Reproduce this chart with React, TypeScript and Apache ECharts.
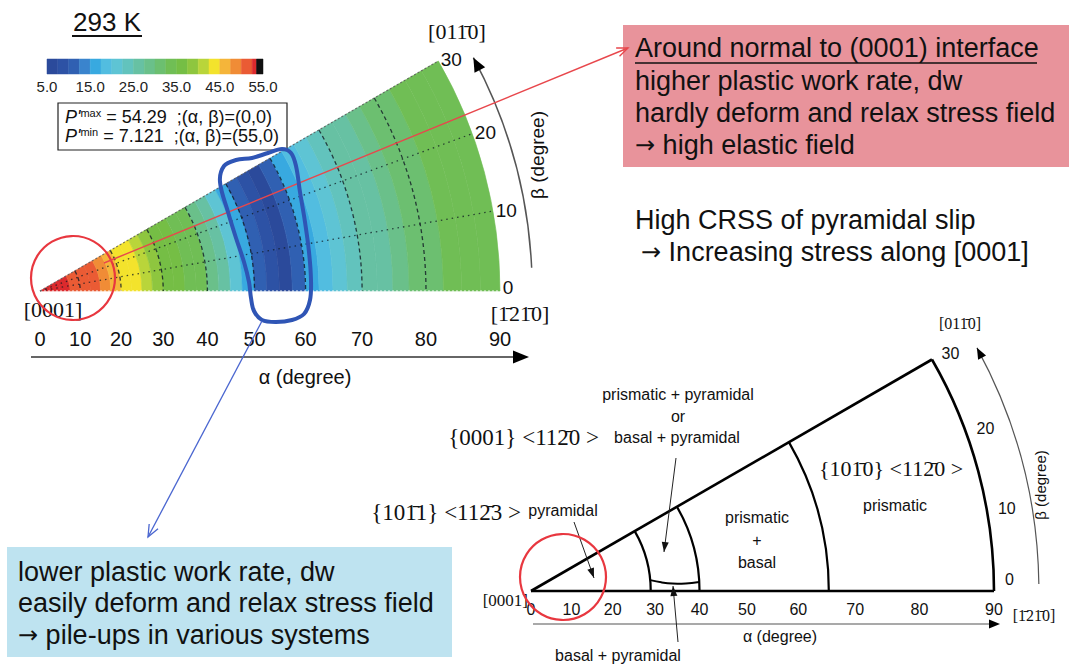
import React, { useEffect, useRef } from "react";
import * as echarts from "echarts";

const SANS = '"Liberation Sans", Arial, Helvetica, sans-serif';
const SERIF = '"Liberation Serif", "Times New Roman", serif';

// Angular ranges of the stereographic triangle (degrees)
const alphaTicks = [0, 10, 20, 30, 40, 50, 60, 70, 80, 90];
const betaTicks = [0, 10, 20, 30];
const betaMax = 30;
const betaGrid = [10, 20];

// P' contour levels and their colours
const levelEdges = [5, 7.5, 10, 12.5, 15, 17.5, 20, 22.5, 25, 27.5, 30, 32.5, 35, 37.5, 40, 42.5, 45, 47.5, 50, 52.5, 53.5, 55];
const levelColors = [
  "#2b4a9b", "#2d52a5", "#3060b2", "#3a84cd", "#38a9e0", "#52bde0", "#5ec4d4", "#62c3bd",
  "#67c1a3", "#6ac08a", "#6cbf70", "#70be55", "#75be45", "#8ec63f", "#b9d53a", "#f3e32c",
  "#f5b53a", "#f08c36", "#ea5b34", "#dc2a2d", "#111111",
];

// P' at 293 K in bands of alpha (band edges, then one value per band)
const heatAlpha = [0, 2.5, 5, 7.5, 10, 12.5, 15, 17.5, 20, 22.5, 25, 27.5, 30, 32.5, 35, 37.5, 40, 42.5, 45,
  47.5, 50, 52.5, 55, 57.5, 60, 62.5, 65, 67.5, 70, 72.5, 75, 77.5, 80, 82.5, 85, 87.5, 90];
const heatValue = [53.0, 53.0, 52.8, 52.0, 51.0, 50.5, 48.5, 46.0, 44.0, 43.0, 41.0, 39.0, 37.0, 36.0, 34.0, 33.0,
  29.0, 26.0, 21.0, 17.0, 10.5, 8.0, 7.2, 12.0, 16.5, 19.5, 21.5, 23.0, 25.5, 27.0, 28.5, 30.5, 32.0, 33.5, 34.0, 34.0];

// Slip-system regions of the lower triangle: boundary arcs at these alpha values
const regionArcs = [29, 40, 65.5];
// Lower edge of the "basal + pyramidal" pocket, [alpha, beta]
const basalPyramidalEdge = [[29, 5.2], [31.5, 3.8], [34, 3.0], [37, 2.8], [40, 3.1]];

const RAD = Math.PI / 180;
const stereo = (a: number) => Math.tan((a * RAD) / 2);
const toXY = (a: number, b: number) => [stereo(a) * Math.cos(b * RAD), stereo(a) * Math.sin(b * RAD)];

function head(tip: number[], from: number[], len: number, half: number) {
  const dx = tip[0] - from[0];
  const dy = tip[1] - from[1];
  const d = Math.hypot(dx, dy) || 1;
  const ux = dx / d, uy = dy / d;
  const bx = tip[0] - ux * len, by = tip[1] - uy * len;
  return [tip, [bx - uy * half, by + ux * half], [bx + uy * half, by - ux * half]];
}

function openHead(tip: number[], from: number[], len: number, half: number) {
  const p = head(tip, from, len, half);
  return [p[1], p[0], p[2]];
}

function txt(x: number, y: number, text: string, font: string, extra: any = {}) {
  return {
    type: "text",
    x,
    y,
    rotation: extra.rotation || 0,
    z: 20,
    style: {
      text,
      font,
      fill: extra.fill || "#111",
      align: extra.align || "center",
      verticalAlign: "middle",
      rich: extra.rich,
    },
  };
}

function polarPt(O: number[], u: number, r: number, b: number) {
  return [O[0] + r * u * Math.cos(b * RAD), O[1] - r * u * Math.sin(b * RAD)];
}

function arcAxis(O: number[], u: number, r: number, b0: number, b1: number, stroke: string, lw: number, hl: number, hh: number) {
  const tip = polarPt(O, u, r, b1);
  const prev = polarPt(O, u, r, b1 - 1.5);
  return [
    {
      type: "arc",
      shape: { cx: O[0], cy: O[1], r: r * u, startAngle: -b1 * RAD, endAngle: -b0 * RAD, clockwise: true },
      style: { stroke, lineWidth: lw, fill: "none" },
    },
    { type: "polygon", shape: { points: head(tip, prev, hl, hh) }, style: { fill: "#000" } },
  ];
}

const BIG = `27px ${SANS}`;
const arrowRich = {
  a: { font: `24px "DejaVu Sans", ${SANS}`, fill: "#111", lineHeight: 30 },
  b: { font: BIG, fill: "#111", lineHeight: 30 },
};
// a note line that starts with an arrow glyph
function arrowTxt(x: number, y: number, rest: string) {
  return txt(x, y, `{a|→}{b| ${rest}}`, BIG, { align: "left", rich: arrowRich });
}

function App() {
  const ref = useRef<HTMLDivElement>(null);

  useEffect(() => {
    if (!ref.current) return;
    const chart = echarts.init(ref.current, undefined, { renderer: "svg" });

    const heatData = heatValue.map((v, i) => [heatAlpha[i], heatAlpha[i + 1], v]);
    const barData = levelColors.map((_, i) => [levelEdges[i], levelEdges[i + 1], (levelEdges[i] + levelEdges[i + 1]) / 2]);

    const renderHeat = (params: any, api: any) => {
      const O = api.coord([0, 0]);
      const u = api.size([1, 0])[0];
      const c = api.visual("color");
      return {
        type: "sector",
        shape: {
          cx: O[0], cy: O[1],
          r0: stereo(api.value(0)) * u, r: stereo(api.value(1)) * u,
          startAngle: -betaMax * RAD, endAngle: 0, clockwise: true,
        },
        style: { fill: c, stroke: c, lineWidth: 0.6 },
      };
    };

    const renderBar = (params: any, api: any) => {
      const p0 = api.coord([api.value(0), 1]);
      const p1 = api.coord([api.value(1), 0]);
      const c = api.visual("color");
      return {
        type: "rect",
        shape: { x: p0[0], y: p0[1], width: p1[0] - p0[0], height: p1[1] - p0[1] },
        style: { fill: c, stroke: c, lineWidth: 0.5 },
      };
    };

    const renderTop = (params: any, api: any) => {
      const O = api.coord([0, 0]);
      const u = api.size([1, 0])[0];
      const P = (a: number, b: number) => api.coord(toXY(a, b));
      const ch: any[] = [];
      // dashed alpha circles
      alphaTicks.filter((a) => a > 0 && a < 90).forEach((a) => {
        ch.push({
          type: "arc",
          shape: { cx: O[0], cy: O[1], r: stereo(a) * u, startAngle: -betaMax * RAD, endAngle: 0, clockwise: true },
          style: { stroke: "rgba(15,25,35,0.8)", lineWidth: 1.3, lineDash: [4, 3], fill: "none" },
        });
      });
      // dotted beta lines
      betaGrid.forEach((b) => {
        const p = P(90, b);
        ch.push({
          type: "line",
          shape: { x1: O[0], y1: O[1], x2: p[0], y2: p[1] },
          style: { stroke: "rgba(15,25,35,0.75)", lineWidth: 1.3, lineDash: [1.5, 4] },
        });
      });
      // triangle edges
      [0, betaMax].forEach((b) => {
        const p = P(90, b);
        ch.push({
          type: "line",
          shape: { x1: O[0], y1: O[1], x2: p[0], y2: p[1] },
          style: { stroke: b === 0 ? "rgba(255,255,255,0.9)" : "rgba(90,90,90,0.8)", lineWidth: 1.2, lineDash: [2, 2] },
        });
      });
      // alpha tick labels and axis arrow
      alphaTicks.forEach((a) => {
        const p = P(a, 0);
        ch.push(txt(p[0], O[1] + 48, String(a), `20px ${SANS}`));
      });
      const ay = O[1] + 66;
      ch.push({ type: "line", shape: { x1: O[0] - 9, y1: ay, x2: O[0] + 476, y2: ay }, style: { stroke: "#333", lineWidth: 1.6 } });
      ch.push({ type: "polygon", shape: { points: head([O[0] + 489, ay], [O[0], ay], 16, 6.5) }, style: { fill: "#000" } });
      ch.push(txt(O[0] + 265, O[1] + 86, "α (degree)", `20px ${SANS}`));
      // beta tick labels and arc axis
      betaTicks.forEach((b) => {
        const p = polarPt(O, u, 1.006, b);
        ch.push(txt(p[0], p[1] - (b === 0 ? 4 : 0), String(b), `19px ${SANS}`, { align: "left" }));
      });
      ch.push(...arcAxis(O, u, 1.07, 2.7, 28.3, "#555", 1.5, 14, 6));
      ch.push(txt(O[0] + 497, 155, "β (degree)", `19px ${SANS}`, { rotation: Math.PI / 2 }));
      // pole labels
      ch.push(txt(O[0] + 13, O[1] + 18, "[0001]", `22px ${SERIF}`));
      ch.push(txt(457, 31, "[011\u03040]", `22px ${SERIF}`));
      ch.push(txt(O[0] + 480, O[1] + 22, "[1\u030421\u03040]", `22px ${SERIF}`));
      return { type: "group", children: ch };
    };

    const renderBottom = (params: any, api: any) => {
      const O = api.coord([0, 0]);
      const u = api.size([1, 0])[0];
      const P = (a: number, b: number) => api.coord(toXY(a, b));
      const ch: any[] = [];
      const lineStyle = { stroke: "#000", lineWidth: 2.6, fill: "none" };
      [0, betaMax].forEach((b) => {
        const p = P(90, b);
        ch.push({ type: "line", shape: { x1: O[0], y1: O[1], x2: p[0], y2: p[1] }, style: lineStyle });
      });
      [...regionArcs, 90].forEach((a) => {
        ch.push({
          type: "arc",
          shape: { cx: O[0], cy: O[1], r: stereo(a) * u, startAngle: -betaMax * RAD, endAngle: 0, clockwise: true },
          style: { ...lineStyle, lineWidth: a === 90 ? 2.6 : 2.2 },
        });
      });
      ch.push({
        type: "polyline",
        shape: { points: basalPyramidalEdge.map(([a, b]) => P(a, b)), smooth: 0.4 },
        style: { ...lineStyle, lineWidth: 2 },
      });
      // alpha ticks and arrow
      alphaTicks.forEach((a) => {
        const p = P(a, 0);
        ch.push(txt(p[0], O[1] + 18, String(a), `16px ${SANS}`));
      });
      const ay = O[1] + 33;
      ch.push({ type: "line", shape: { x1: O[0] + 2, y1: ay, x2: O[0] + 460, y2: ay }, style: { stroke: "#555", lineWidth: 1.2 } });
      ch.push({ type: "polygon", shape: { points: head([O[0] + 469, ay], [O[0], ay], 11, 4.5) }, style: { fill: "#000" } });
      ch.push(txt(O[0] + 249, O[1] + 45, "α (degree)", `16px ${SANS}`));
      // beta ticks and arc axis
      betaTicks.forEach((b) => {
        const p = polarPt(O, u, 1.024, b);
        ch.push(txt(p[0], p[1] - (b === 0 ? 12 : 0), String(b), `16px ${SANS}`, { align: "left" }));
      });
      ch.push(...arcAxis(O, u, 1.097, 0.8, 28.6, "#555", 1.2, 11, 4.5));
      ch.push(txt(O[0] + 509, 485, "β (degree)", `15px ${SANS}`, { rotation: Math.PI / 2 }));
      ch.push(txt(O[0] - 3, O[1] + 9, "[0001]", `17px ${SERIF}`, { align: "right" }));
      ch.push(txt(960, 323, "[011\u03040]", `16px ${SERIF}`));
      ch.push(txt(O[0] + 503, O[1] + 24, "[1\u030421\u03040]", `16px ${SERIF}`));
      return { type: "group", children: ch };
    };

    // outline drawn around the low-P' band
    const bandOutline = [
      [220, 182], [224, 166], [236, 160], [252, 158], [268, 153], [282, 149], [291, 153], [296, 166],
      [300, 192], [305, 222], [309, 252], [311, 280], [310, 300], [304, 314], [292, 320], [276, 322],
      [262, 320], [254, 311], [251, 298], [249, 282], [244, 262], [236, 238], [228, 212],
    ];

    const thinArrow = (from: number[], to: number[]) => [
      { type: "line", z: 20, shape: { x1: from[0], y1: from[1], x2: to[0], y2: to[1] }, style: { stroke: "#222", lineWidth: 1 } },
      { type: "polygon", z: 20, shape: { points: head(to, from, 10, 3.5) }, style: { fill: "#111" } },
    ];

    const pRich = {
      p: { font: `italic 18px ${SANS}`, fill: "#111", lineHeight: 20 },
      s: { font: `11px ${SANS}`, fill: "#111", lineHeight: 20, padding: [0, 0, 8, 0] },
      t: { font: `18px ${SANS}`, fill: "#111", lineHeight: 20 },
    };

    const graphic: any[] = [
      // title
      txt(107, 22, "293 K", `26px ${SANS}`),
      { type: "line", z: 20, shape: { x1: 72, y1: 36, x2: 142, y2: 36 }, style: { stroke: "#111", lineWidth: 2 } },
      // extreme values box
      { type: "rect", z: 19, shape: { x: 58, y: 103, width: 229, height: 47 }, style: { fill: "#fff", stroke: "#222", lineWidth: 1.2 } },
      {
        type: "text", x: 65, y: 117, z: 20,
        style: { text: "{p|P'}{s|max}{t| = 54.29  ;(α, β)=(0,0)}", verticalAlign: "middle", align: "left", rich: pRich },
      },
      {
        type: "text", x: 65, y: 136, z: 20,
        style: { text: "{p|P'}{s|min}{t| = 7.121  ;(α, β)=(55,0)}", verticalAlign: "middle", align: "left", rich: pRich },
      },
      // red marker and arrow
      { type: "circle", z: 20, shape: { cx: 73, cy: 278, r: 42 }, style: { fill: "none", stroke: "#e8373f", lineWidth: 2.2 } },
      { type: "line", z: 20, shape: { x1: 104, y1: 263, x2: 628, y2: 48 }, style: { stroke: "#e8474c", lineWidth: 1.4 } },
      { type: "polyline", z: 20, shape: { points: openHead([628, 48], [104, 263], 11, 4.5) }, style: { stroke: "#e8474c", lineWidth: 1.4, fill: "none" } },
      // blue outline and arrow
      { type: "polygon", z: 20, shape: { points: bandOutline, smooth: 0.35 }, style: { fill: "none", stroke: "#2f55b5", lineWidth: 4 } },
      { type: "line", z: 20, shape: { x1: 262, y1: 321, x2: 148, y2: 537 }, style: { stroke: "#4a66d0", lineWidth: 1.3 } },
      { type: "polyline", z: 20, shape: { points: openHead([148, 537], [262, 321], 12, 5) }, style: { stroke: "#4a66d0", lineWidth: 1.3, fill: "none" } },
      // pink note
      { type: "rect", z: 10, shape: { x: 623, y: 25, width: 446, height: 142 }, style: { fill: "#e8939b" } },
      txt(635, 48, "Around normal to (0001) interface", BIG, { align: "left" }),
      { type: "line", z: 20, shape: { x1: 635, y1: 63, x2: 1037, y2: 63 }, style: { stroke: "#111", lineWidth: 1.6 } },
      txt(635, 81, "higher plastic work rate, dw", BIG, { align: "left" }),
      txt(635, 113, "hardly deform and relax stress field", BIG, { align: "left" }),
      arrowTxt(635, 145, "high elastic field"),
      txt(635, 220, "High CRSS of pyramidal slip", BIG, { align: "left" }),
      arrowTxt(641, 252, "Increasing stress along [0001]"),
      // blue note
      { type: "rect", z: 10, shape: { x: 7, y: 547, width: 445, height: 110 }, style: { fill: "#bee3f0" } },
      txt(18, 572, "lower plastic work rate, dw", BIG, { align: "left" }),
      txt(18, 603, "easily deform and relax stress field", BIG, { align: "left" }),
      arrowTxt(18, 635, "pile-ups in various systems"),
      // lower triangle annotations
      txt(678, 394, "prismatic + pyramidal", `16px ${SANS}`),
      txt(678, 416, "or", `16px ${SANS}`),
      txt(677, 437, "basal + pyramidal", `16px ${SANS}`),
      txt(599, 437, "{0001} <112\u03040 >", `23px ${SERIF}`, { align: "right" }),
      txt(521, 512, "{101\u03041} <112\u03043 >", `23px ${SERIF}`, { align: "right" }),
      txt(563, 510, "pyramidal", `16px ${SANS}`),
      txt(757, 517, "prismatic", `16px ${SANS}`),
      txt(757, 540, "+", `16px ${SANS}`),
      txt(757, 562, "basal", `16px ${SANS}`),
      txt(891, 468, "{101\u03040} <112\u03040 >", `22px ${SERIF}`),
      txt(895, 505, "prismatic", `16px ${SANS}`),
      txt(618, 655, "basal + pyramidal", `16px ${SANS}`),
      ...thinArrow([574, 522], [594, 578]),
      ...thinArrow([676, 458], [664, 552]),
      ...thinArrow([678, 642], [673, 586]),
      { type: "circle", z: 20, shape: { cx: 563, cy: 577, r: 43 }, style: { fill: "none", stroke: "#e8373f", lineWidth: 2.2 } },
    ];

    const hidden = { show: false };
    chart.setOption({
      animation: false,
      backgroundColor: "#fff",
      grid: [
        { left: 40, top: 61, width: 460, height: 230 },
        { left: 531, top: 359.5, width: 463, height: 231.5 },
        { left: 47, top: 59, width: 216, height: 15 },
      ],
      xAxis: [
        { gridIndex: 0, type: "value", min: 0, max: 1, ...hidden },
        { gridIndex: 1, type: "value", min: 0, max: 1, ...hidden },
        {
          gridIndex: 2, type: "value", min: 5, max: 55, interval: 10,
          axisLine: { show: false }, axisTick: { show: false }, splitLine: { show: false },
          axisLabel: { formatter: (v: number) => v.toFixed(1), fontSize: 15, color: "#222", margin: 5, fontFamily: SANS },
        },
      ],
      yAxis: [
        { gridIndex: 0, type: "value", min: 0, max: 0.5, ...hidden },
        { gridIndex: 1, type: "value", min: 0, max: 0.5, ...hidden },
        { gridIndex: 2, type: "value", min: 0, max: 1, ...hidden },
      ],
      visualMap: {
        type: "piecewise",
        show: false,
        dimension: 2,
        seriesIndex: [0, 1],
        pieces: levelColors.map((c, i) => ({ gte: levelEdges[i], lt: levelEdges[i + 1], color: c })),
      },
      series: [
        { type: "custom", name: "P'", xAxisIndex: 0, yAxisIndex: 0, data: heatData, renderItem: renderHeat, silent: true, z: 2 },
        { type: "custom", name: "colour scale", xAxisIndex: 2, yAxisIndex: 2, data: barData, renderItem: renderBar, silent: true, z: 2 },
        { type: "custom", name: "grid 293 K", xAxisIndex: 0, yAxisIndex: 0, data: [[0, 0, 0]], renderItem: renderTop, silent: true, z: 3 },
        { type: "custom", name: "slip regions", xAxisIndex: 1, yAxisIndex: 1, data: [[0, 0, 0]], renderItem: renderBottom, silent: true, z: 3 },
      ],
      graphic,
    });

    return () => chart.dispose();
  }, []);

  return <div ref={ref} style={{ position: "fixed", left: 0, top: 0, width: 1069, height: 668, background: "#fff" }} />;
}

export default App;
